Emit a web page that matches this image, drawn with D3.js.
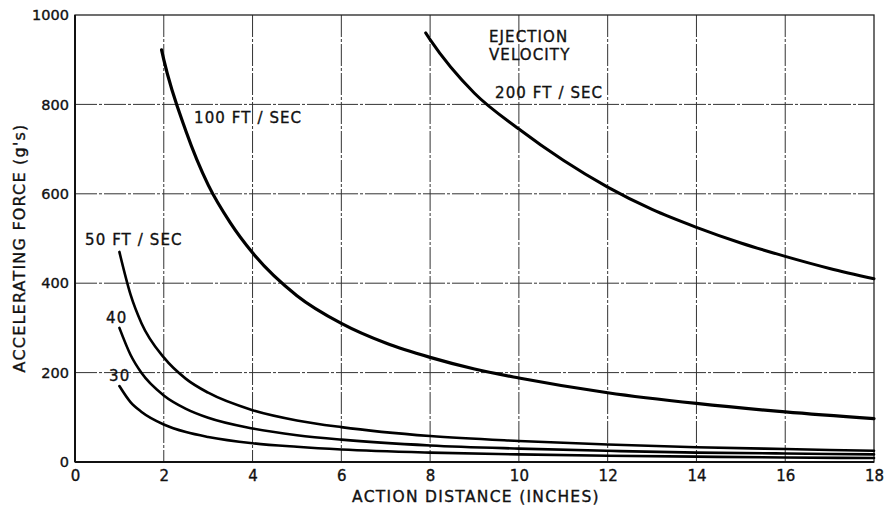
<!DOCTYPE html>
<html lang="en">
<head>
    <meta charset="UTF-8">
    <title>Accelerating force vs action distance</title>
    <script src="https://d3js.org/d3.v7.min.js"></script>
    <style>
        body { margin: 0; background: #fff; }
        svg text {
            font-family: "DejaVu Sans", sans-serif;
            fill: #111;
            stroke: #111;
            stroke-width: 0.35px;
        }
        .grid line { stroke: #333; stroke-width: 1; }
    </style>
</head>
<body>
    <div id="chart"></div>
    <script>
        // values
        const xTicks = [0, 2, 4, 6, 8, 10, 12, 14, 16, 18];
        const yTicks = [0, 200, 400, 600, 800, 1000];

        const x200 = [7.9, 8, 9, 10, 11, 12, 13, 14, 15, 16, 17, 18];
        const y200 = [960, 945, 825, 745, 675, 615, 565, 525, 490, 460, 433, 410];

        const x100 = [1.95, 2, 2.5, 3, 3.5, 4, 5, 6, 7, 8, 9, 10, 12, 14, 16, 18];
        const y100 = [922, 900, 740, 620, 535, 468, 372, 310, 266, 234, 208, 188, 155, 131, 112, 97];

        const xLow = [1, 1.25, 1.5, 2, 2.5, 3, 4, 5, 6, 8, 10, 12, 14, 16, 18];
        const y50 = [470, 375, 310, 234, 186, 155, 116, 93, 78, 58, 47, 39, 33, 29, 25];
        const y40 = [300, 240, 199, 149, 119, 99, 75, 60, 50, 37, 30, 25, 21, 19, 17];
        const y30 = [170, 134, 112, 84, 67, 56, 42, 34, 28, 21, 17, 14, 12, 10, 9];

        const series = [
            {xs: x200, ys: y200, w: 3},
            {xs: x100, ys: y100, w: 3.2},
            {xs: xLow, ys: y50, w: 2.6},
            {xs: xLow, ys: y40, w: 2.6},
            {xs: xLow, ys: y30, w: 2.6}
        ];

        const W = 887, H = 511;
        const pLeft = 75, pRight = 874, pTop = 15, pBottom = 462;

        const xScale = d3.scaleLinear().domain([0, 18]).range([pLeft, pRight]);
        const yScale = d3.scaleLinear().domain([0, 1000]).range([pBottom, pTop]);

        const svg = d3.select("#chart").append("svg")
            .attr("width", W)
            .attr("height", H);

        // grid
        const grid = svg.append("g").attr("class", "grid");
        grid.selectAll(".vx")
            .data(xTicks.filter(d => d > 0 && d < 18))
            .join("line")
            .attr("x1", d => xScale(d)).attr("x2", d => xScale(d))
            .attr("y1", pTop).attr("y2", pBottom)
            .attr("stroke-dasharray", "22,2,3,2");
        grid.selectAll(".hy")
            .data(yTicks.filter(d => d > 0 && d < 1000))
            .join("line")
            .attr("x1", pLeft).attr("x2", pRight)
            .attr("y1", d => yScale(d)).attr("y2", d => yScale(d))
            .attr("stroke-dasharray", "22,2,3,2");

        // frame
        svg.append("rect")
            .attr("x", pLeft).attr("y", pTop)
            .attr("width", pRight - pLeft).attr("height", pBottom - pTop)
            .attr("fill", "none")
            .attr("stroke", "#222")
            .attr("stroke-width", 1.3);
        svg.append("line")
            .attr("x1", pLeft).attr("x2", pLeft)
            .attr("y1", pTop).attr("y2", pBottom)
            .attr("stroke", "#111").attr("stroke-width", 2);
        svg.append("line")
            .attr("x1", pLeft).attr("x2", pRight)
            .attr("y1", pBottom).attr("y2", pBottom)
            .attr("stroke", "#111").attr("stroke-width", 2);

        // axes (labels only, the grid already draws the lines)
        const xAxis = svg.append("g")
            .attr("transform", `translate(0,${pBottom})`)
            .call(d3.axisBottom(xScale).tickValues(xTicks).tickFormat(d3.format("d"))
                .tickSize(0).tickPadding(8));
        xAxis.select(".domain").remove();
        xAxis.selectAll("text")
            .attr("font-size", 15)
            .style("font-family", "'DejaVu Sans', sans-serif")
            .attr("fill", "#111");

        const yAxis = svg.append("g")
            .attr("transform", `translate(${pLeft},0)`)
            .call(d3.axisLeft(yScale).tickValues(yTicks).tickFormat(d3.format("d"))
                .tickSize(0).tickPadding(6));
        yAxis.select(".domain").remove();
        yAxis.selectAll("text")
            .attr("font-size", 14.5)
            .style("font-family", "'DejaVu Sans', sans-serif")
            .attr("fill", "#111");

        // curves
        const line = d3.line()
            .x(d => xScale(d[0]))
            .y(d => yScale(d[1]))
            .curve(d3.curveMonotoneX);

        svg.selectAll(".curve")
            .data(series)
            .join("path")
            .attr("class", "curve")
            .attr("d", s => line(s.xs.map((v, i) => [v, s.ys[i]])))
            .attr("fill", "none")
            .attr("stroke", "#000")
            .attr("stroke-width", s => s.w)
            .attr("stroke-linecap", "round");

        // curve labels
        const labels = [
            {t: "EJECTION", x: 489, y: 42},
            {t: "VELOCITY", x: 489, y: 60},
            {t: "200  FT / SEC", x: 495, y: 98},
            {t: "100  FT / SEC", x: 194, y: 123},
            {t: "50  FT / SEC", x: 85, y: 245},
            {t: "40", x: 106, y: 323},
            {t: "30", x: 109, y: 381}
        ];
        svg.selectAll(".lbl")
            .data(labels)
            .join("text")
            .attr("x", d => d.x)
            .attr("y", d => d.y)
            .attr("font-size", 15)
            .attr("letter-spacing", 1.1)
            .text(d => d.t);

        // axis titles
        svg.append("text")
            .attr("x", 476)
            .attr("y", 502)
            .attr("text-anchor", "middle")
            .attr("font-size", 15.5)
            .attr("letter-spacing", 1.3)
            .text("ACTION DISTANCE (INCHES)");

        svg.append("text")
            .attr("transform", "translate(25,248) rotate(-90)")
            .attr("text-anchor", "middle")
            .attr("font-size", 16)
            .attr("letter-spacing", 1.2)
            .text("ACCELERATING FORCE (g's)");
    </script>
</body>
</html>
